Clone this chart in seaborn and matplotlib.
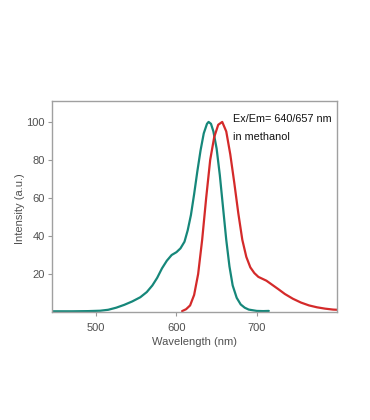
import numpy as np
import pandas as pd
import matplotlib
matplotlib.use("Agg")
import matplotlib.pyplot as plt
import seaborn as sns

# absorption (excitation) spectrum
abs_wl = [445, 470, 490, 505, 515, 525, 535, 545, 555, 563, 570, 576, 582, 588,
          594, 600, 605, 610, 614, 618, 622, 626, 630, 634, 638, 640, 643, 646,
          650, 654, 658, 662, 666, 670, 675, 680, 685, 690, 700, 708, 715]
abs_int = [0.4, 0.4, 0.5, 0.7, 1.2, 2.3, 3.8, 5.6, 7.8, 10.5, 14, 18, 23, 27,
           30, 31.5, 33.5, 37, 43, 51, 62, 74, 85, 94, 99, 100, 99, 95,
           86, 72, 55, 38, 24, 14, 7.5, 4, 2.3, 1.3, 0.6, 0.5, 0.6]

# emission spectrum
em_wl = [607, 612, 617, 622, 627, 632, 637, 642, 647, 652, 657, 662, 667, 672,
         677, 682, 687, 692, 697, 702, 707, 712, 717, 722, 727, 735, 745, 755,
         765, 775, 785, 795, 800]
em_int = [0.5, 1.5, 3.5, 9, 20, 38, 60, 80, 92, 98.5, 100, 95, 83, 68,
          52, 38, 29, 23.5, 20.5, 18.5, 17.5, 16.5, 15, 13.5, 12, 9.5, 7, 5,
          3.5, 2.5, 1.8, 1.3, 1.2]

x_ticks = [500, 600, 700]
y_ticks = [20, 40, 60, 80, 100]

df = pd.concat([
    pd.DataFrame({"wl": abs_wl, "intensity": abs_int, "spec": "Ex"}),
    pd.DataFrame({"wl": em_wl, "intensity": em_int, "spec": "Em"}),
])

sns.set_style("white")
plt.rcParams["font.family"] = ["Liberation Sans", "DejaVu Sans"]

fig = plt.figure(figsize=(3.7, 4.2), dpi=100)
ax = fig.add_axes([0.1405, 0.257, 0.7705, 0.5025])

sns.lineplot(data=df, x="wl", y="intensity", hue="spec",
             palette={"Ex": "#16877a", "Em": "#d42a2a"},
             linewidth=1.6, legend=False, ax=ax, sort=False)

ax.set_xlim(445, 800)
ax.set_ylim(0, 111)
ax.set_xticks(x_ticks)
ax.set_yticks(y_ticks)
ax.tick_params(axis="both", labelsize=8, labelcolor="#505050", length=3,
               width=0.8, direction="out", color="#999999")
ax.tick_params(axis="x", bottom=True, pad=5)
ax.tick_params(axis="y", left=True, pad=2)
for sp in ax.spines.values():
    sp.set_color("#a0a0a0")
    sp.set_linewidth(1.0)

ax.set_xlabel("Wavelength (nm)", fontsize=8, color="#505050", labelpad=3)
ax.set_ylabel("Intensity (a.u.)", fontsize=8, color="#505050")
ax.yaxis.set_label_coords(-0.095, 0.49)

ax.text(0.635, 0.94, "Ex/Em= 640/657 nm\nin methanol", transform=ax.transAxes,
        fontsize=7.8, color="#111111", va="top", ha="left", linespacing=2.0)

fig.savefig("out.png", dpi=100)
